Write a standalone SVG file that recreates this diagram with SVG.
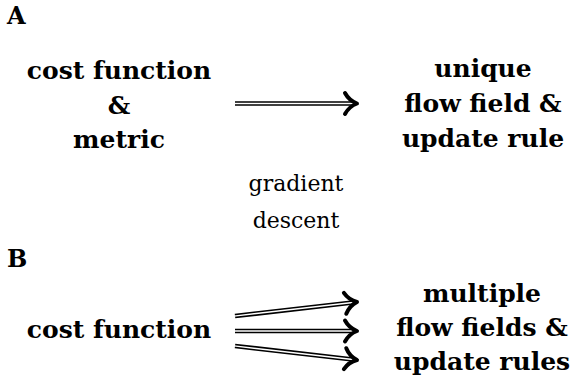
<svg xmlns="http://www.w3.org/2000/svg" width="575" height="380" viewBox="0 0 575 380">
<defs>
<style>
text{font-family:"DejaVu Serif","Liberation Serif",serif;fill:#000}
.b{font-weight:bold;font-size:25px}
.p{font-weight:bold;font-size:24px}
.r{font-size:22px}
.shaft-o{stroke:#000;stroke-width:4.6;fill:none}
.shaft-i{stroke:#fff;stroke-width:1.4;fill:none}
.head{stroke:#000;stroke-width:4;fill:none;stroke-linecap:round;stroke-linejoin:round}
</style>
<path id="hd" class="head" d="M-12,-10.5 C-9,-5 -4,-1.5 0,0 C-4,1.5 -9,5 -12,10.5"/>
</defs>
<rect width="575" height="380" fill="#fff"/>
<text class="p" x="7" y="24">A</text>
<text class="p" x="7" y="267">B</text>
<g id="nodeA1">
<text class="b" x="119" y="79" text-anchor="middle">cost function</text>
<text class="b" x="119" y="114" text-anchor="middle">&amp;</text>
<text class="b" x="119" y="148" text-anchor="middle">metric</text>
</g>
<g id="nodeA2">
<text class="b" x="483" y="77" text-anchor="middle">unique</text>
<text class="b" x="483" y="112" text-anchor="middle">flow field &amp;</text>
<text class="b" x="483" y="147" text-anchor="middle">update rule</text>
</g>
<g id="label">
<text class="r" x="296" y="191" text-anchor="middle">gradient</text>
<text class="r" x="296" y="228" text-anchor="middle">descent</text>
</g>
<g id="nodeB1">
<text class="b" x="119" y="338" text-anchor="middle">cost function</text>
</g>
<g id="nodeB2">
<text class="b" x="482" y="302" text-anchor="middle">multiple</text>
<text class="b" x="482" y="336" text-anchor="middle">flow fields &amp;</text>
<text class="b" x="482" y="370" text-anchor="middle">update rules</text>
</g>
<g id="connectors">
<path class="shaft-o" d="M235,103.5 H355"/>
<path class="shaft-i" d="M234,103.5 H355"/>
<use href="#hd" transform="translate(357,103.5)"/>
<path class="shaft-o" d="M235,316 L355,302.2"/>
<path class="shaft-i" d="M234,316.1 L355,302.2"/>
<use href="#hd" transform="translate(357,302) rotate(-6.55)"/>
<path class="shaft-o" d="M235,331 H355"/>
<path class="shaft-i" d="M234,331 H355"/>
<use href="#hd" transform="translate(357,331)"/>
<path class="shaft-o" d="M235,346 L355,359.8"/>
<path class="shaft-i" d="M234,345.9 L355,359.8"/>
<use href="#hd" transform="translate(357,360) rotate(6.55)"/>
</g>
</svg>
